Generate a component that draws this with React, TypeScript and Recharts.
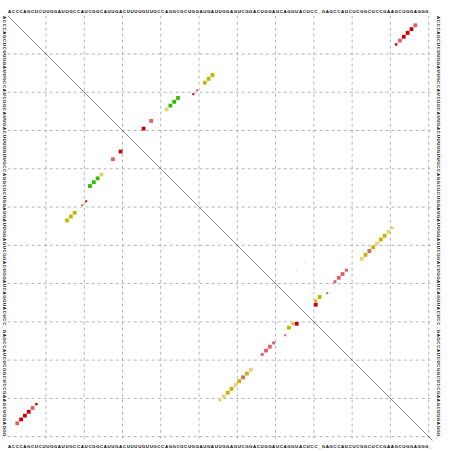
import React from 'react';
import { ScatterChart, Scatter, XAxis, YAxis, ReferenceLine } from 'recharts';

// sequence (one letter per position, 1-based)
const SEQ = "ACCCAGCUCUUGGAUUGCCAUCGGCAUUGACUUUUGUUGCCAGGCGCUGGAUGAUUGGAGUCGGACUGGAUCAGGUACUCC_GAGCCAUCUCGGCUCCGAAGCUGGAGGG_";
const LEN = 111;
const POSITIONS = Array.from({ length: LEN }, (_, k) => k + 1);
const GRID = [10.5, 20.5, 30.5, 40.5, 50.5, 60.5, 70.5, 80.5, 90.5, 100.5, 110.5];

// base pairs: i, j, probability, colour class
const PAIR_I = [3, 4, 5, 6, 7, 8,
  16, 17, 18, 20, 21, 22, 23, 24, 25, 28, 30,
  56, 57, 58, 59, 60, 61, 62, 63, 64, 67, 68, 69, 70, 73, 74, 75, 76];
const PAIR_J = [107, 106, 105, 104, 103, 102,
  54, 53, 52, 50, 49, 45, 44, 43, 42, 38, 36,
  101, 100, 99, 98, 97, 96, 95, 94, 93, 89, 88, 87, 86, 84, 82, 81, 81];
const PAIR_P = [1, 1, 1, 1, 1, 0.4,
  1, 1, 1, 0.3, 0.3, 1, 1, 1, 1, 1, 1,
  0.5, 1, 1, 1, 1, 1, 1, 1, 1, 0.6, 1, 1, 0.6, 0.3, 1, 0.5, 1];
const PAIR_C = ['p', 'r', 'r', 'r', 'p', 'r',
  'o', 'o', 'o', 'p', 'r', 'g', 'g', 'g', 'y', 'p', 'r',
  'y', 'y', 'o', 'o', 'y', 'o', 'p', 'o', 'y', 'p', 'p', 'p', 'p', 'p', 'o', 'o', 'r'];

// weak alternative pairs shown only in the upper triangle
const WEAK_I = [65, 67];
const WEAK_J = [78, 76];
const WEAK_P = [0.06, 0.06];

const COLORS: Record<string, string> = {
  r: '#cc0000',
  p: '#e06060',
  o: '#c8b400',
  y: '#e4d27a',
  g: '#33bb00',
  f: '#f0b0b0',
};
const FULL = 3.8;

const upper = PAIR_I.map((i, k) => ({ x: PAIR_J[k], y: i, p: PAIR_P[k], c: PAIR_C[k] }))
  .concat(WEAK_I.map((i, k) => ({ x: WEAK_J[k], y: i, p: WEAK_P[k], c: 'f' })));
const lower = PAIR_I.map((i, k) => ({ x: i, y: PAIR_J[k], p: PAIR_P[k], c: PAIR_C[k] }));

const Square = (props: any) => {
  const { cx, cy, payload } = props;
  const s = Math.sqrt(payload.p) * FULL;
  return <rect x={cx - s / 2} y={cy - s / 2} width={s} height={s} fill={COLORS[payload.c]} />;
};

const FONT = { fontFamily: 'Liberation Sans, Arial, sans-serif', fontSize: 4.4, fontWeight: 700 as const };

const TopTick = (props: any) => {
  const { x, payload } = props;
  return <text x={x} y={13} textAnchor="middle" {...FONT} fill="#000">{SEQ[payload.value - 1]}</text>;
};
const BottomTick = (props: any) => {
  const { x, payload } = props;
  return <text x={x} y={448} textAnchor="middle" {...FONT} fill="#000">{SEQ[payload.value - 1]}</text>;
};
const LeftTick = (props: any) => {
  const { y, payload } = props;
  const cx = 4.5;
  return (
    <text x={cx} y={y} textAnchor="middle" dominantBaseline="central" transform={`rotate(90 ${cx} ${y})`} {...FONT} fill="#000">
      {SEQ[payload.value - 1]}
    </text>
  );
};
const RightTick = (props: any) => {
  const { y, payload } = props;
  const cx = 438;
  return (
    <text x={cx} y={y} textAnchor="middle" dominantBaseline="central" transform={`rotate(90 ${cx} ${y})`} {...FONT} fill="#000">
      {SEQ[payload.value - 1]}
    </text>
  );
};

export default function App() {
  const dom: [number, number] = [0.5, LEN + 0.5];
  return (
    <div style={{ position: 'absolute', left: 0, top: 0, background: '#fff' }}>
      <ScatterChart width={452} height={451} margin={{ top: 0, right: 0, bottom: 0, left: 0 }}>
        <XAxis xAxisId="t" orientation="top" type="number" dataKey="x" domain={dom} ticks={POSITIONS} interval={0}
          height={15.7} axisLine={false} tickLine={false} tick={<TopTick />} allowDataOverflow />
        <XAxis xAxisId="b" orientation="bottom" type="number" dataKey="x" domain={dom} ticks={POSITIONS} interval={0}
          height={10.5} axisLine={false} tickLine={false} tick={<BottomTick />} allowDataOverflow />
        <YAxis yAxisId="l" orientation="left" type="number" dataKey="y" domain={dom} ticks={POSITIONS} interval={0}
          width={7.7} reversed axisLine={false} tickLine={false} tick={<LeftTick />} allowDataOverflow />
        <YAxis yAxisId="r" orientation="right" type="number" dataKey="y" domain={dom} ticks={POSITIONS} interval={0}
          width={19.5} reversed axisLine={false} tickLine={false} tick={<RightTick />} allowDataOverflow />
        {GRID.map((g) => (
          <ReferenceLine key={'vx' + g} xAxisId="t" yAxisId="l" x={g} stroke="#b4b4b4" strokeDasharray="3 3" strokeWidth={1} />
        ))}
        {GRID.map((g) => (
          <ReferenceLine key={'hy' + g} xAxisId="t" yAxisId="l" y={g} stroke="#b4b4b4" strokeDasharray="3 3" strokeWidth={1} />
        ))}
        <ReferenceLine xAxisId="t" yAxisId="l" segment={[{ x: 0.5, y: 0.5 }, { x: LEN + 0.5, y: LEN + 0.5 }]}
          stroke="#555" strokeWidth={0.7} ifOverflow="visible" />
        <Scatter xAxisId="t" yAxisId="l" data={upper} shape={<Square />} isAnimationActive={false} />
        <Scatter xAxisId="t" yAxisId="l" data={lower} shape={<Square />} isAnimationActive={false} />
      </ScatterChart>
    </div>
  );
}
